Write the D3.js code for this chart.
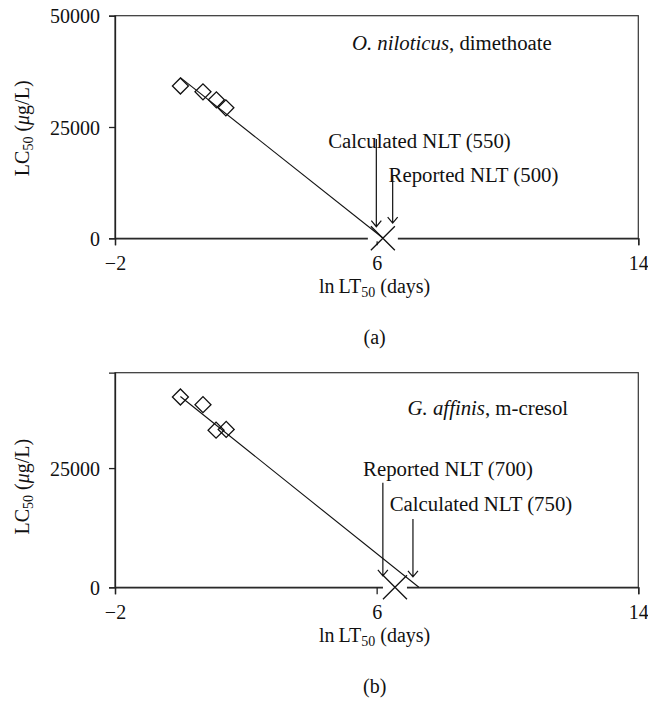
<!DOCTYPE html>
<html>
<head>
<meta charset="utf-8">
<script src="https://cdn.jsdelivr.net/npm/d3@7"></script>
<style>
  body { margin: 0; background: #fff; }
  text { font-family: 'Liberation Serif', 'Times New Roman', serif; fill: #111; }
</style>
</head>
<body>
<div id="chart"></div>
<script>
// x axis ticks (ln LT50, days)
const xTicks = [-2, 6, 14];

// panel (a): O. niloticus, dimethoate
const lnLT50A = [0, 0.69, 1.10, 1.39];
const lc50A = [34200, 32900, 31100, 29300];
const fitA = [[0, 36100], [6.2, 0]];
const nltA = [6.19, 0];
const yTicksA = [0, 25000, 50000];
const arrowsA = [
    { x: 5.99, y0: 22300, y1: 2600, label: 'Calculated NLT (550)', lx: 7.31, ly: 20300 },
    { x: 6.49, y0: 14200, y1: 3400, label: 'Reported NLT (500)', lx: 8.96, ly: 12650 }
];

// panel (b): G. affinis, m-cresol
const lnLT50B = [0, 0.69, 1.09, 1.40];
const lc50B = [39900, 38300, 32950, 33100];
const fitB = [[0, 40000], [7.29, 0]];
const nltB = [6.56, 0];
const yTicksB = [0, 25000];
const arrowsB = [
    { x: 6.19, y0: 21900, y1: 2400, label: 'Reported NLT (700)', lx: 8.18, ly: 23300 },
    { x: 7.11, y0: 14300, y1: 2200, label: 'Calculated NLT (750)', lx: 9.19, ly: 16000 }
];

const panels = [
    { letter: '(a)', top: 15.7, bottom: 238.3, yMax: 50000, yTicks: yTicksA, xs: lnLT50A, ys: lc50A,
      fit: fitA, nlt: nltA, arrows: arrowsA, species: 'O. niloticus', chem: ', dimethoate',
      tx: 8.30, ty: 42300, labelY: 128.3, gap: 15 },
    { letter: '(b)', top: 372.7, bottom: 587.3, yMax: 45000, yTicks: yTicksB, xs: lnLT50B, ys: lc50B,
      fit: fitB, nlt: nltB, arrows: arrowsB, species: 'G. affinis', chem: ', m-cresol',
      tx: 9.40, ty: 36100, labelY: 486.7, gap: 12 }
];

const width = 648, height = 706;
const left = 115, right = 638.3;
const fontSize = 20;
const noteSize = 20.8;

const svg = d3.select('#chart')
    .append('svg')
    .attr('width', width)
    .attr('height', height);

const x = d3.scaleLinear().domain([-2, 14]).range([left, right]);

panels.forEach(p => {
    const y = d3.scaleLinear().domain([0, p.yMax]).range([p.bottom, p.top]);
    const g = svg.append('g');

    // box
    g.append('rect')
        .attr('x', left).attr('y', p.top)
        .attr('width', right - left).attr('height', p.bottom - p.top)
        .attr('fill', 'none').attr('stroke', '#333').attr('stroke-width', 1.2);

    // axes
    const xAxis = g.append('g')
        .attr('transform', `translate(0,${p.bottom})`)
        .call(d3.axisBottom(x).tickValues(xTicks).tickSize(7).tickFormat(d => d < 0 ? '\u2212' + Math.abs(d) : d));
    const yAxis = g.append('g')
        .attr('transform', `translate(${left},0)`)
        .call(d3.axisLeft(y).tickValues(p.yTicks).tickSize(6).tickFormat(d3.format('d')));

    [xAxis, yAxis].forEach(a => {
        a.select('.domain').attr('stroke', '#222').attr('stroke-width', 1.3);
        a.selectAll('.tick line').attr('stroke', '#222').attr('stroke-width', 1.3);
        a.selectAll('.tick text').attr('font-size', fontSize)
            .attr('font-family', "'Liberation Serif', 'Times New Roman', serif").attr('fill', '#111');
    });
    xAxis.selectAll('.tick text').attr('y', 32).attr('dy', null);
    yAxis.selectAll('.tick text').attr('x', -15).attr('dy', '0.35em');

    // white gap where the NLT cross sits on the axis
    g.append('rect')
        .attr('x', x(p.nlt[0]) - p.gap).attr('y', y(p.nlt[1]) - 3)
        .attr('width', p.gap * 2).attr('height', 6)
        .attr('fill', '#fff');

    // regression line
    g.append('line')
        .attr('x1', x(p.fit[0][0])).attr('y1', y(p.fit[0][1]))
        .attr('x2', x(p.fit[1][0])).attr('y2', y(p.fit[1][1]))
        .attr('stroke', '#111').attr('stroke-width', 1.1);

    // diamonds
    const sym = d3.symbol().type(d3.symbolSquare).size(128);
    g.selectAll('path.pt')
        .data(p.xs.map((v, i) => [v, p.ys[i]]))
        .join('path')
        .attr('class', 'pt')
        .attr('d', sym)
        .attr('transform', d => `translate(${x(d[0])},${y(d[1])}) rotate(45)`)
        .attr('fill', 'none').attr('stroke', '#111').attr('stroke-width', 1.3);

    // NLT cross
    const cx = x(p.nlt[0]), cy = y(p.nlt[1]), s = 12;
    g.append('path')
        .attr('d', `M${cx - s},${cy - s}L${cx + s},${cy + s}M${cx - s},${cy + s}L${cx + s},${cy - s}`)
        .attr('stroke', '#111').attr('stroke-width', 1.3).attr('fill', 'none');

    // arrows and labels
    p.arrows.forEach(a => {
        const ax = x(a.x), y0 = y(a.y0), y1 = y(a.y1);
        g.append('path')
            .attr('d', `M${ax},${y0}L${ax},${y1}M${ax - 5},${y1 - 6}L${ax},${y1}L${ax + 5},${y1 - 6}`)
            .attr('stroke', '#111').attr('stroke-width', 1.2).attr('fill', 'none');
        g.append('text')
            .attr('x', x(a.lx)).attr('y', y(a.ly))
            .attr('text-anchor', 'middle')
            .attr('font-size', noteSize)
            .text(a.label);
    });

    // species / chemical title
    const t = g.append('text')
        .attr('x', x(p.tx)).attr('y', y(p.ty))
        .attr('text-anchor', 'middle')
        .attr('font-size', noteSize);
    t.append('tspan').attr('font-style', 'italic').text(p.species);
    t.append('tspan').text(p.chem);

    // y axis label
    const yl = g.append('text')
        .attr('transform', `translate(28.5,${p.labelY}) rotate(-90)`)
        .attr('text-anchor', 'middle')
        .attr('font-size', fontSize);
    yl.append('tspan').text('LC');
    yl.append('tspan').attr('font-size', 14).attr('dy', 4).text('50');
    yl.append('tspan').attr('dy', -4).text(' (');
    yl.append('tspan').attr('font-style', 'italic').text('\u03bc');
    yl.append('tspan').text('g/L)');

    // x axis label
    const xl = g.append('text')
        .attr('x', (left + right) / 2 - 2).attr('y', p.bottom + 55)
        .attr('text-anchor', 'middle')
        .attr('font-size', fontSize);
    xl.append('tspan').text('ln\u2009LT');
    xl.append('tspan').attr('font-size', 14).attr('dy', 4).text('50');
    xl.append('tspan').attr('dy', -4).text(' (days)');

    // panel letter
    g.append('text')
        .attr('x', (left + right) / 2 - 2).attr('y', p.bottom + 105.5)
        .attr('text-anchor', 'middle')
        .attr('font-size', fontSize)
        .text(p.letter);
});
</script>
</body>
</html>
